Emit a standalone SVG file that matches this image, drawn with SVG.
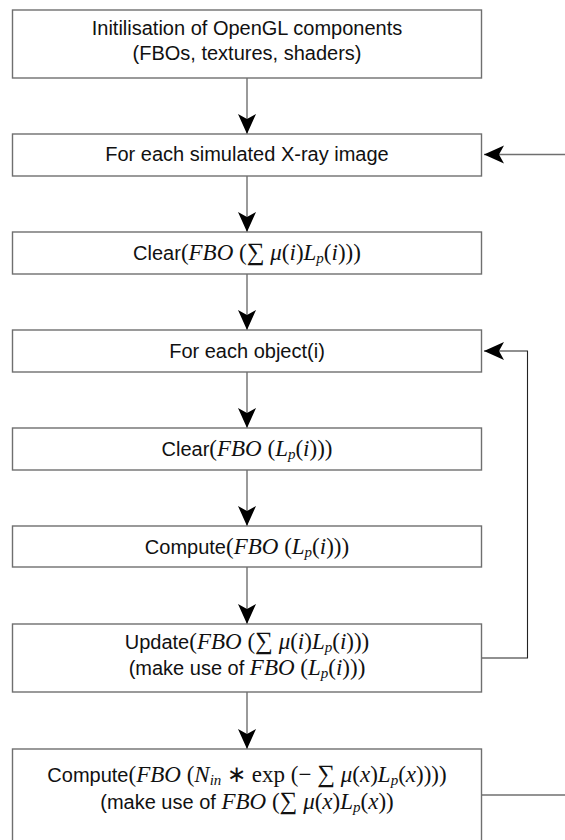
<svg xmlns="http://www.w3.org/2000/svg" width="565" height="840" viewBox="0 0 565 840">
<defs>
<style>
.box{fill:#fff;stroke:#6f6f6f;stroke-width:1.4}
.t{font-family:"Liberation Sans",Arial,sans-serif;font-size:20px;fill:#111;text-anchor:middle}
.m{font-family:"Liberation Serif","Times New Roman",serif;font-size:23px}
.mi{font-family:"Liberation Serif","Times New Roman",serif;font-size:23px;font-style:italic}
.sub{font-family:"Liberation Serif","Times New Roman",serif;font-size:15px;font-style:italic}
.big{font-size:25px}
.edge{fill:none;stroke:#6f6f6f;stroke-width:1.4}
.loop{fill:none;stroke:#222;stroke-width:1.1}
</style>
<marker id="ah" viewBox="-21 -10 22 20" refX="0" refY="0" markerWidth="22" markerHeight="20" markerUnits="userSpaceOnUse" orient="auto">
<path d="M0,0 L-20,-9 L-15,0 L-20,9 Z" fill="#000"/>
</marker>
</defs>
<g id="connectors">
<path class="edge" d="M247,78 V134" marker-end="url(#ah)"/>
<path class="edge" d="M247,176 V232" marker-end="url(#ah)"/>
<path class="edge" d="M247,274 V330" marker-end="url(#ah)"/>
<path class="edge" d="M247,372 V428" marker-end="url(#ah)"/>
<path class="edge" d="M247,470 V526" marker-end="url(#ah)"/>
<path class="edge" d="M247,567 V624" marker-end="url(#ah)"/>
<path class="edge" d="M247,692 V749" marker-end="url(#ah)"/>
<path class="edge" d="M565,154.5 H484" marker-end="url(#ah)"/>
<path class="loop" d="M481.5,658 H527.5 V351 H484" marker-end="url(#ah)"/>
<path class="edge" d="M481.5,795 H566"/>
</g>
<g id="n1">
<rect class="box" x="12.5" y="10" width="469" height="68"/>
<text class="t" x="247" y="35">Initilisation of OpenGL components</text>
<text class="t" x="247" y="60">(FBOs, textures, shaders)</text>
</g>
<g id="n2">
<rect class="box" x="12.5" y="134" width="469" height="42"/>
<text class="t" x="247" y="161">For each simulated X-ray image</text>
</g>
<g id="n3">
<rect class="box" x="12.5" y="232" width="469" height="42"/>
<text class="t" x="247" y="260">Clear<tspan class="m">(</tspan><tspan class="mi">FBO</tspan><tspan class="m"> (</tspan><tspan class="m big">∑</tspan><tspan class="mi"> μ</tspan><tspan class="m">(</tspan><tspan class="mi">i</tspan><tspan class="m">)</tspan><tspan class="mi">L</tspan><tspan class="sub" dy="3">p</tspan><tspan class="m" dy="-3">(</tspan><tspan class="mi">i</tspan><tspan class="m">)))</tspan></text>
</g>
<g id="n4">
<rect class="box" x="12.5" y="330" width="469" height="42"/>
<text class="t" x="247" y="358">For each object(i)</text>
</g>
<g id="n5">
<rect class="box" x="12.5" y="428" width="469" height="42"/>
<text class="t" x="247" y="456">Clear<tspan class="m">(</tspan><tspan class="mi">FBO</tspan><tspan class="m"> (</tspan><tspan class="mi">L</tspan><tspan class="sub" dy="3">p</tspan><tspan class="m" dy="-3">(</tspan><tspan class="mi">i</tspan><tspan class="m">)))</tspan></text>
</g>
<g id="n6">
<rect class="box" x="12.5" y="526" width="469" height="41"/>
<text class="t" x="247" y="554">Compute<tspan class="m">(</tspan><tspan class="mi">FBO</tspan><tspan class="m"> (</tspan><tspan class="mi">L</tspan><tspan class="sub" dy="3">p</tspan><tspan class="m" dy="-3">(</tspan><tspan class="mi">i</tspan><tspan class="m">)))</tspan></text>
</g>
<g id="n7">
<rect class="box" x="12.5" y="624" width="469" height="68"/>
<text class="t" x="247" y="649">Update<tspan class="m">(</tspan><tspan class="mi">FBO</tspan><tspan class="m"> (</tspan><tspan class="m big">∑</tspan><tspan class="mi"> μ</tspan><tspan class="m">(</tspan><tspan class="mi">i</tspan><tspan class="m">)</tspan><tspan class="mi">L</tspan><tspan class="sub" dy="3">p</tspan><tspan class="m" dy="-3">(</tspan><tspan class="mi">i</tspan><tspan class="m">)))</tspan></text>
<text class="t" x="247" y="675">(make use of <tspan class="mi">FBO</tspan><tspan class="m"> (</tspan><tspan class="mi">L</tspan><tspan class="sub" dy="3">p</tspan><tspan class="m" dy="-3">(</tspan><tspan class="mi">i</tspan><tspan class="m">)))</tspan></text>
</g>
<g id="n8">
<rect class="box" x="12.5" y="749" width="469" height="93"/>
<text class="t" x="247" y="782">Compute<tspan class="m">(</tspan><tspan class="mi">FBO</tspan><tspan class="m"> (</tspan><tspan class="mi">N</tspan><tspan class="sub" dy="3">in</tspan><tspan class="m" dy="-3"> ∗ exp (− </tspan><tspan class="m big">∑</tspan><tspan class="mi"> μ</tspan><tspan class="m">(</tspan><tspan class="mi">x</tspan><tspan class="m">)</tspan><tspan class="mi">L</tspan><tspan class="sub" dy="3">p</tspan><tspan class="m" dy="-3">(</tspan><tspan class="mi">x</tspan><tspan class="m">))))</tspan></text>
<text class="t" x="247" y="809">(make use of <tspan class="mi">FBO</tspan><tspan class="m"> (</tspan><tspan class="m big">∑</tspan><tspan class="mi"> μ</tspan><tspan class="m">(</tspan><tspan class="mi">x</tspan><tspan class="m">)</tspan><tspan class="mi">L</tspan><tspan class="sub" dy="3">p</tspan><tspan class="m" dy="-3">(</tspan><tspan class="mi">x</tspan><tspan class="m">))</tspan></text>
</g>
</svg>
